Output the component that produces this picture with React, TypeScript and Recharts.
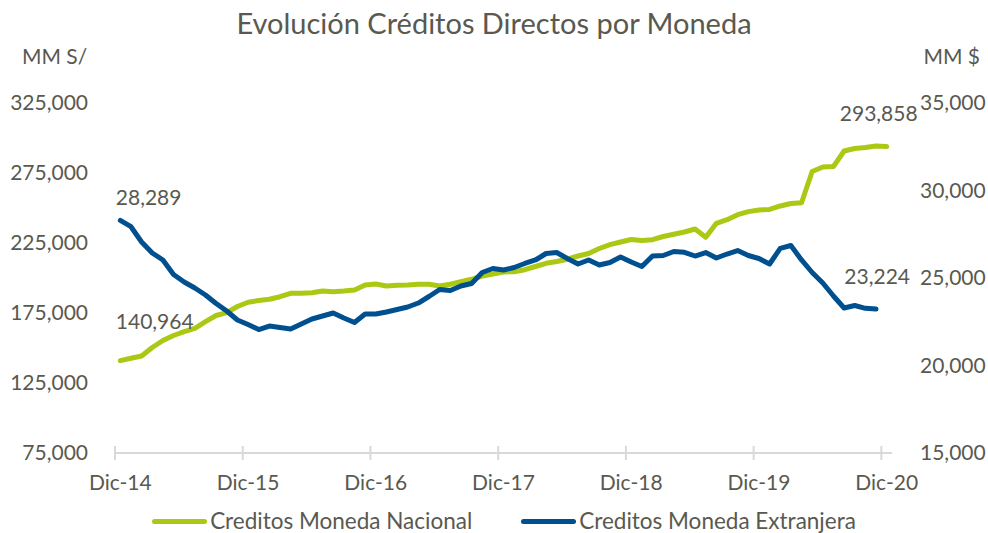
import { LineChart, Line, XAxis, YAxis, LabelList } from "recharts"

// meses en el eje (Dic-14 .. Dic-20)
const meses = ["Ene", "Feb", "Mar", "Abr", "May", "Jun", "Jul", "Ago", "Set", "Oct", "Nov", "Dic"]
const anios = ["15", "16", "17", "18", "19", "20"]
const categorias: string[] = ["Dic-14"]
anios.forEach((a) => meses.forEach((m) => categorias.push(`${m}-${a}`)))

// MM S/ (eje izquierdo)
const nacional = [
  140964, 142643, 144286, 150357, 155357, 158929, 161643, 164071, 168786, 173214, 175214, 179643,
  182714, 183929, 184786, 186643, 189071, 189071, 189500, 190714, 190214, 190714, 191429, 195000,
  195714, 194286, 194786, 195000, 195500, 195500, 194286, 195571, 197357, 199071, 201429, 202857,
  204286, 204500, 205929, 208214, 210500, 211786, 213429, 215714, 217500, 221071, 223786, 225714,
  227500, 226786, 227357, 229643, 231286, 232857, 235000, 229071, 239071, 241643, 245214, 247429,
  248571, 248929, 251429, 253214, 253714, 276071, 279286, 279643, 290714, 292500, 293214, 294286,
  293858,
]

// MM $ (eje derecho)
const extranjera = [
  28289, 27931, 27057, 26429, 26029, 25200, 24771, 24429, 24029, 23543, 23114, 22600,
  22343, 22057, 22257, 22171, 22086, 22371, 22657, 22829, 23000, 22714, 22457, 22943,
  22943, 23057, 23200, 23343, 23571, 23943, 24343, 24286, 24543, 24686, 25314, 25543,
  25457, 25600, 25829, 26029, 26400, 26457, 26114, 25800, 26029, 25743, 25886, 26200,
  25914, 25657, 26257, 26286, 26514, 26469, 26257, 26457, 26143, 26371, 26571, 26286,
  26114, 25800, 26697, 26857, 26029, 25314, 24714, 23971, 23286, 23429, 23269, 23224,
]

const ticksIzq = [75000, 125000, 175000, 225000, 275000, 325000]
const ticksDer = [15000, 20000, 25000, 30000, 35000]

const data = categorias.map((mes, i) => ({
  mes,
  nacional: nacional[i] ?? null,
  extranjera: extranjera[i] ?? null,
}))

const W = 988
const H = 533
const LEFT_W = 115
const RIGHT_W = 96
const BAND = (W - LEFT_W - RIGHT_W) / categorias.length

const VERDE = "#abc814"
const AZUL = "#00508f"
const TEXTO = "#595950"
const FONT = "Lato, 'Open Sans', sans-serif"
const fmt = (v: number) => v.toLocaleString("en-US")

function XTick({ x, y, payload }: any) {
  return (
    <g>
      <line x1={x - BAND / 2} x2={x - BAND / 2} y1={y - 7} y2={y + 7} stroke="#d9d9d9" strokeWidth={2} />
      <text x={x} y={y + 37} textAnchor="middle" fill={TEXTO} fontSize={21} fontFamily={FONT}>
        {payload.value}
      </text>
    </g>
  )
}

function labelNacional(props: any) {
  const { x, y, index, value } = props
  if (index === 0)
    return <text x={x - 4.5} y={y - 32} fill={TEXTO} fontSize={21} fontFamily={FONT}>{fmt(value)}</text>
  if (index === nacional.length - 1)
    return <text x={x + 31} y={y - 26} textAnchor="end" fill={TEXTO} fontSize={21} fontFamily={FONT}>{fmt(value)}</text>
  return null
}

function labelExtranjera(props: any) {
  const { x, y, index, value } = props
  if (index === 0)
    return <text x={x - 4.5} y={y - 15} fill={TEXTO} fontSize={21} fontFamily={FONT}>{fmt(value)}</text>
  if (index === extranjera.length - 1)
    return <text x={x + 34} y={y - 25} textAnchor="end" fill={TEXTO} fontSize={21} fontFamily={FONT}>{fmt(value)}</text>
  return null
}

export default function App() {
  return (
    <div style={{ position: "absolute", left: 0, top: 0, width: W, height: H, background: "#fff", fontFamily: FONT, color: TEXTO }}>
      <div style={{ position: "absolute", left: 0, width: W, top: 5, textAlign: "center", fontSize: 29 }}>
        Evolución Créditos Directos por Moneda
      </div>
      <div style={{ position: "absolute", left: 22, top: 43, fontSize: 21 }}>MM S/</div>
      <div style={{ position: "absolute", right: 8, top: 43, fontSize: 21 }}>MM $</div>

      <LineChart width={W} height={H} data={data} margin={{ top: 103, right: 0, left: 0, bottom: 40 }}>
        <XAxis
          dataKey="mes"
          scale="band"
          interval={11}
          height={40}
          tickSize={0}
          tickMargin={0}
          tickLine={false}
          axisLine={{ stroke: "#d9d9d9", strokeWidth: 2 }}
          tick={<XTick />}
        />
        <YAxis
          yAxisId="left"
          width={LEFT_W}
          domain={[75000, 325000]}
          ticks={ticksIzq}
          tickFormatter={fmt}
          axisLine={false}
          tickLine={false}
          tickSize={0}
          tickMargin={27}
          tick={{ fill: TEXTO, fontSize: 21, fontFamily: FONT }}
        />
        <YAxis
          yAxisId="right"
          orientation="right"
          width={RIGHT_W}
          domain={[15000, 35000]}
          ticks={ticksDer}
          tickFormatter={fmt}
          axisLine={false}
          tickLine={false}
          tickSize={0}
          tickMargin={28}
          tick={{ fill: TEXTO, fontSize: 21, fontFamily: FONT, textAnchor: "start" }}
        />
        <Line
          yAxisId="left"
          dataKey="nacional"
          stroke={VERDE}
          strokeWidth={5}
          strokeLinecap="round"
          strokeLinejoin="round"
          dot={false}
          isAnimationActive={false}
        >
          <LabelList dataKey="nacional" content={labelNacional} />
        </Line>
        <Line
          yAxisId="right"
          dataKey="extranjera"
          stroke={AZUL}
          strokeWidth={5}
          strokeLinecap="round"
          strokeLinejoin="round"
          dot={false}
          isAnimationActive={false}
        >
          <LabelList dataKey="extranjera" content={labelExtranjera} />
        </Line>
      </LineChart>

      <div style={{ position: "absolute", left: 10, width: W, top: 506, display: "flex", justifyContent: "center", fontSize: 22.5, lineHeight: "30px" }}>
        <div style={{ display: "flex", alignItems: "center", marginRight: 49 }}>
          <span style={{ display: "inline-block", width: 55, height: 5, borderRadius: 3, background: VERDE, marginRight: 3 }} />
          Creditos Moneda Nacional
        </div>
        <div style={{ display: "flex", alignItems: "center" }}>
          <span style={{ display: "inline-block", width: 55, height: 5, borderRadius: 3, background: AZUL, marginRight: 3 }} />
          Creditos Moneda Extranjera
        </div>
      </div>
    </div>
  )
}
